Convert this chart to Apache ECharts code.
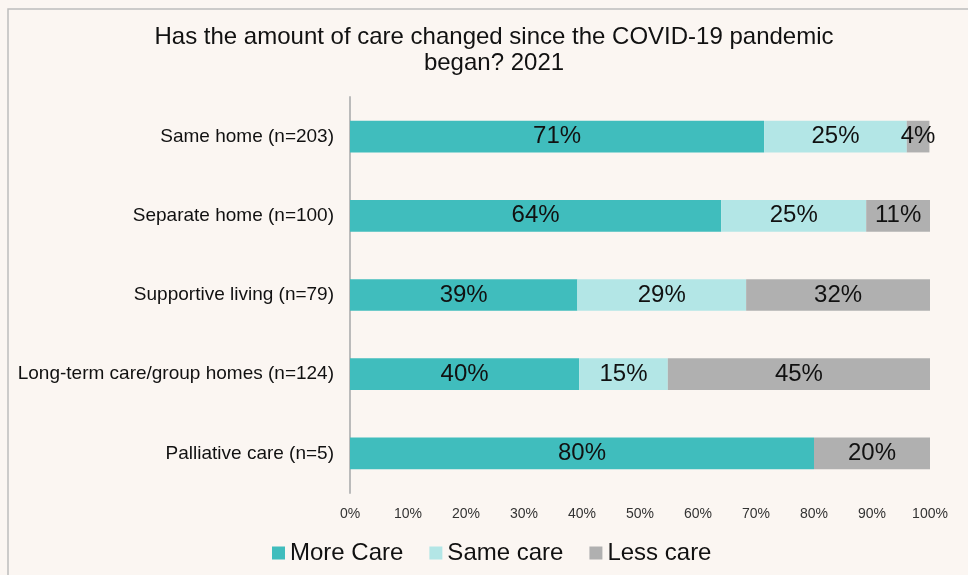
<!DOCTYPE html>
<html><head><meta charset="utf-8">
<script src="https://cdn.jsdelivr.net/npm/echarts@6/dist/echarts.min.js"></script>
<style>html,body{margin:0;padding:0;background:#fbf6f2;}#c{width:968px;height:575px;}</style>
</head><body><div id="c"></div>
<script>
const categories = ["Same home (n=203)","Separate home (n=100)","Supportive living (n=79)","Long-term care/group homes (n=124)","Palliative care (n=5)"];
const moreCare = [71.4, 64.0, 39.2, 39.5, 80.0];
const sameCare = [24.6, 25.0, 29.1, 15.3, 0];
const lessCare = [3.9, 11.0, 31.7, 45.2, 20.0];
const seriesNames = ["More Care","Same care","Less care"];
const xTicks = [0,10,20,30,40,50,60,70,80,90,100];

const chart = echarts.init(document.getElementById('c'));
const font = "Liberation Sans, Arial, sans-serif";
const lbl = {show:true, position:'inside', color:'#111', fontSize:24, fontFamily:font,
  formatter: p => p.value > 0 ? Math.round(p.value) + '%' : ''};
function mk(name, data, color){
  return {name, type:'bar', stack:'s', data, barWidth:'40%', itemStyle:{color}, label:lbl, emphasis:{disabled:true}};
}
chart.setOption({
  backgroundColor:'#fbf6f2',
  animation:false,
  graphic:[{type:'rect', shape:{x:8, y:9, width:980, height:600}, style:{fill:'none', stroke:'#bdbdbd', lineWidth:1.5}, silent:true}],
  title:{text:'Has the amount of care changed since the COVID-19 pandemic\nbegan? 2021', left:489, top:19, textAlign:'center',
    textStyle:{fontFamily:font, fontSize:24, fontWeight:'normal', color:'#111', lineHeight:26}},
  legend:{data:seriesNames, bottom:5, left:267, icon:'rect', itemWidth:13, itemHeight:13, itemGap:26,
    textStyle:{fontFamily:font, fontSize:24, color:'#111'}},
  grid:{left:350, right:38, top:97, bottom:82},
  xAxis:{type:'value', min:0, max:100, interval:10, splitLine:{show:false}, axisLine:{show:false}, axisTick:{show:false},
    axisLabel:{formatter: v => xTicks.includes(v) ? v + '%' : '', fontFamily:font, fontSize:14, color:'#333', margin:14}},
  yAxis:{type:'category', data:categories, inverse:true, axisTick:{show:false},
    axisLine:{show:true, lineStyle:{color:'#bbbbbb', width:2}},
    axisLabel:{fontFamily:font, fontSize:19, color:'#111', margin:16}},
  series:[mk(seriesNames[0], moreCare, '#40bdbd'), mk(seriesNames[1], sameCare, '#b3e6e6'), mk(seriesNames[2], lessCare, '#b0b0b0')]
});
</script></body></html>
